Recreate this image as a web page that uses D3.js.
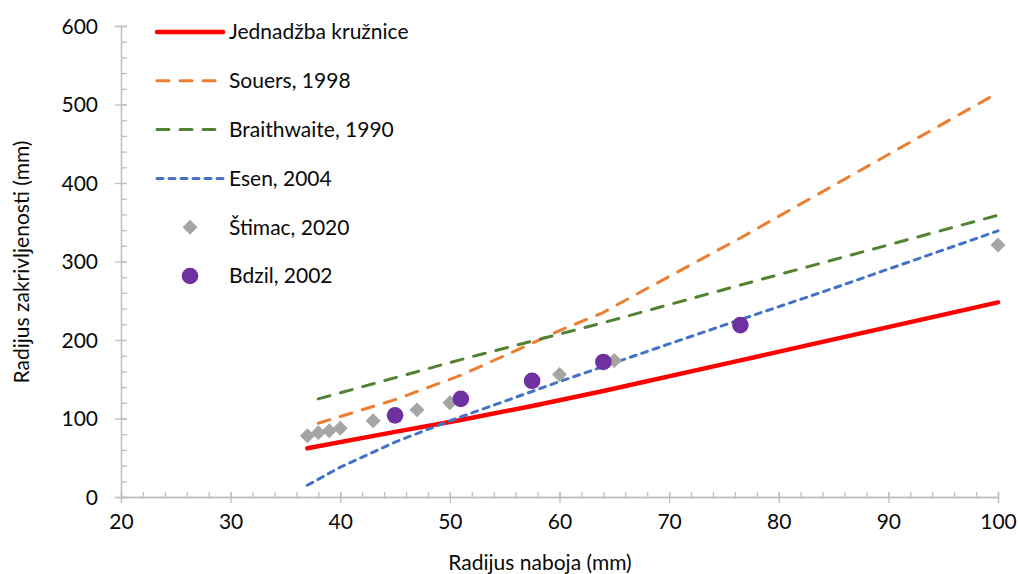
<!DOCTYPE html>
<html>
<head>
<meta charset="utf-8">
<script src="https://cdn.jsdelivr.net/npm/d3@7"></script>
<style>
  html, body { margin: 0; padding: 0; background: #fff; }
  svg { display: block; font-family: Lato, "Open Sans", sans-serif; }
</style>
</head>
<body>
<svg id="chart" width="1018" height="574"></svg>
<script>
// Radijus naboja (mm) vs. radijus zakrivljenosti (mm)

// Model curves
const kruznicaX = [37, 45, 51, 57.5, 64, 76.5, 100];
const kruznicaY = [62, 83, 98, 116, 135, 174, 248];

const souersX = [38, 45, 51, 57.5, 60, 64, 65, 76.5, 100];
const souersY = [94, 124, 155, 196, 212, 235, 243, 330, 515];

const braithX = [38, 51, 64, 76.5, 100];
const braithY = [125, 175, 222, 270, 359];

const esenX = [37, 40, 45, 50, 55, 60, 65, 70, 76.5, 85, 100];
const esenY = [15, 38, 70, 97, 122, 147, 171, 195, 226, 266, 339];

// Measured points
const stimacX = [37, 38, 39, 40, 43, 47, 50, 60, 65, 100];
const stimacY = [78, 82, 84.5, 87.5, 97, 111, 120, 156, 174, 321];

const bdzilX = [45, 51, 57.5, 64, 76.5];
const bdzilY = [104, 125, 148, 172, 219];

const xTicks = [20, 30, 40, 50, 60, 70, 80, 90, 100];
const yTicks = [0, 100, 200, 300, 400, 500, 600];

const zip = (xs, ys) => xs.map((x, i) => ({ x, y: ys[i] }));

const svg = d3.select("#chart");
const x = d3.scaleLinear().domain([20, 100]).range([121, 998]);
const y = d3.scaleLinear().domain([0, 600]).range([497, 26]);

const axisColor = "#bfbfbf";
const textColor = "#0a0a0a";
const fontSize = "21px";

// --- axes -------------------------------------------------------------
// minor ticks (inside) first, then majors (cross the axis line)
const xMinor = svg.append("g")
  .attr("transform", `translate(0,${y(0)})`)
  .call(d3.axisBottom(x).tickValues(d3.range(20, 101, 2)).tickSize(-5).tickFormat(""));
const xMajor = svg.append("g")
  .attr("transform", `translate(0,${y(0)})`)
  .call(d3.axisBottom(x).tickValues(xTicks).tickSize(6).tickPadding(11).tickFormat(d3.format("d")));
xMajor.selectAll(".tick line").attr("y1", -5);

const yMinor = svg.append("g")
  .attr("transform", `translate(${x(20)},0)`)
  .call(d3.axisLeft(y).tickValues(d3.range(0, 601, 20)).tickSize(-6).tickFormat(""));
const yMajor = svg.append("g")
  .attr("transform", `translate(${x(20)},0)`)
  .call(d3.axisLeft(y).tickValues(yTicks).tickSize(6).tickPadding(17).tickFormat(d3.format("d")));
yMajor.selectAll(".tick line").attr("x1", 6);

for (const a of [xMinor, xMajor, yMinor, yMajor]) {
  a.select(".domain").attr("stroke", axisColor).attr("stroke-width", 1.3);
  a.selectAll(".tick line").attr("stroke", axisColor).attr("stroke-width", 1.3);
  a.selectAll("text")
    .attr("fill", textColor)
    .style("font-size", fontSize)
    .style("font-family", "Lato, 'Open Sans', sans-serif");
}
yMajor.selectAll("text").attr("dy", "0.35em");

// axis titles
svg.append("text")
  .attr("x", 540).attr("y", 570)
  .attr("text-anchor", "middle")
  .attr("fill", textColor)
  .style("font-size", fontSize)
  .text("Radijus naboja (mm)");

svg.append("text")
  .attr("transform", "translate(29,262) rotate(-90)")
  .attr("text-anchor", "middle")
  .attr("fill", textColor)
  .style("font-size", fontSize)
  .text("Radijus zakrivljenosti (mm)");

// --- series -----------------------------------------------------------
const line = d3.line().x(d => x(d.x)).y(d => y(d.y));

const lineSeries = [
  { name: "Jednadžba kružnice", data: zip(kruznicaX, kruznicaY), color: "#ff0000", width: 4.5, dash: null,   cap: "round" },
  { name: "Souers, 1998",       data: zip(souersX, souersY),     color: "#ed7d31", width: 3,   dash: "12 11", cap: "round" },
  { name: "Braithwaite, 1990",  data: zip(braithX, braithY),     color: "#548235", width: 3,   dash: "12 11", cap: "round" },
  { name: "Esen, 2004",         data: zip(esenX, esenY),         color: "#4472c4", width: 3,   dash: "6 6",   cap: "round" },
];

for (const s of lineSeries) {
  svg.append("path")
    .attr("d", line(s.data))
    .attr("fill", "none")
    .attr("stroke", s.color)
    .attr("stroke-width", s.width)
    .attr("stroke-linecap", s.cap)
    .attr("stroke-linejoin", "round")
    .attr("stroke-dasharray", s.dash);
}

const diamond = d3.symbol().type(d3.symbolSquare).size(112);
svg.append("g").selectAll("path")
  .data(zip(stimacX, stimacY))
  .join("path")
  .attr("d", diamond)
  .attr("transform", d => `translate(${x(d.x)},${y(d.y)}) rotate(45)`)
  .attr("fill", "#a5a5a5");

svg.append("g").selectAll("circle")
  .data(zip(bdzilX, bdzilY))
  .join("circle")
  .attr("cx", d => x(d.x))
  .attr("cy", d => y(d.y))
  .attr("r", 8.3)
  .attr("fill", "#7030a0");

// --- legend -----------------------------------------------------------
const legendRows = [
  { ...lineSeries[0], kind: "line" },
  { ...lineSeries[1], kind: "line" },
  { ...lineSeries[2], kind: "line" },
  { ...lineSeries[3], kind: "line" },
  { name: "Štimac, 2020", kind: "diamond", color: "#a5a5a5" },
  { name: "Bdzil, 2002",  kind: "circle",  color: "#7030a0" },
];

const legend = svg.append("g");
legendRows.forEach((r, i) => {
  const cy = 32 + i * 48.8;
  const row = legend.append("g").attr("transform", `translate(0,${cy})`);
  if (r.kind === "line") {
    row.append("line")
      .attr("x1", 157).attr("x2", 223).attr("y1", 0).attr("y2", 0)
      .attr("stroke", r.color)
      .attr("stroke-width", r.width)
      .attr("stroke-linecap", r.cap)
      .attr("stroke-dasharray", r.dash);
  } else if (r.kind === "diamond") {
    row.append("path").attr("d", diamond)
      .attr("transform", "translate(190,0) rotate(45)")
      .attr("fill", r.color);
  } else {
    row.append("circle").attr("cx", 190).attr("cy", 0).attr("r", 8.3).attr("fill", r.color);
  }
  row.append("text")
    .attr("x", 229).attr("y", 0).attr("dy", "0.35em")
    .attr("fill", textColor)
    .style("font-size", fontSize)
    .text(r.name);
});
</script>
</body>
</html>
